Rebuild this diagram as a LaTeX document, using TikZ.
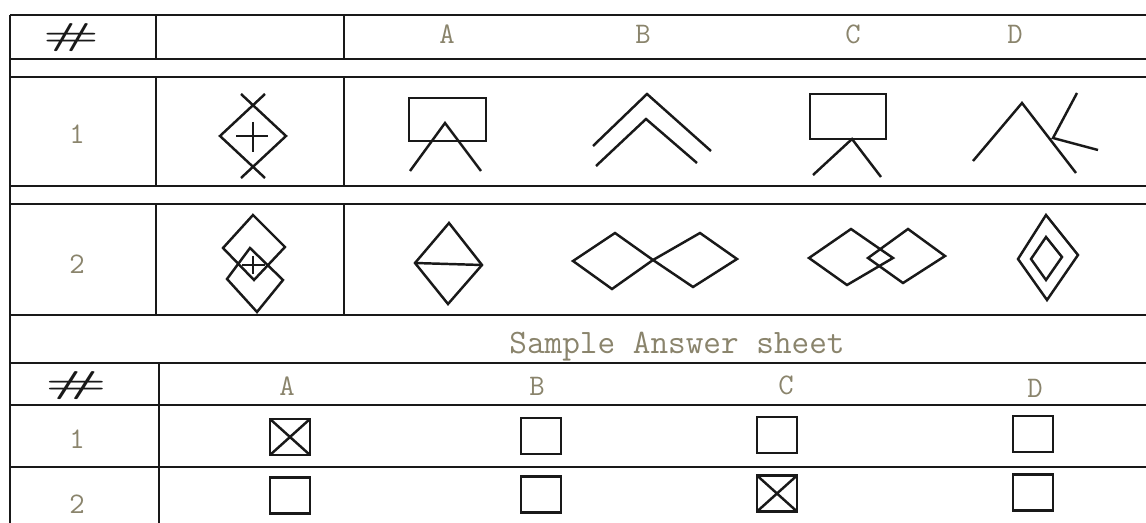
\documentclass[tikz,border=0pt]{standalone}
\usepackage{fontspec}
\usepackage{xcolor}
\usepackage{tikz}
\usetikzlibrary{positioning}
\definecolor{typeink}{RGB}{138,132,108}
\definecolor{penink}{RGB}{25,25,25}
\tikzstyle{rule} = [line width=1.6pt, draw=penink]
\tikzstyle{figline} = [line width=1.4pt, draw=penink, line join=miter]
\tikzstyle{typed} = [font=\ttfamily\fontsize{17}{17}\selectfont, text=typeink, inner sep=0pt, anchor=base]
\tikzstyle{hash} = [font=\fontsize{18}{18}\selectfont\bfseries, text=penink, inner sep=0pt]
\tikzstyle{ansbox} = [rectangle, draw=penink, line width=1.5pt, minimum width=0.8cm, minimum height=0.72cm, inner sep=0pt, outer sep=0pt]

\begin{document}
\begin{tikzpicture}[x=0.02cm, y=-0.02cm]
    \useasboundingbox (0,0) rectangle (1146,523);

    % Rejilla
    \draw [rule] (10,15) -- (1146,15);
    \draw [rule] (10,59) -- (1146,59);
    \draw [rule] (10,77) -- (1146,77);
    \draw [rule] (10,186) -- (1146,186);
    \draw [rule] (10,204) -- (1146,204);
    \draw [rule] (10,315) -- (1146,315);
    \draw [rule] (10,363) -- (1146,363);
    \draw [rule] (10,405) -- (1146,405);
    \draw [rule] (10,467) -- (1146,467);
    \draw [rule] (10,15) -- (10,523);
    \draw [rule] (156,15) -- (156,59) (156,77) -- (156,186) (156,204) -- (156,315);
    \draw [rule] (344,15) -- (344,59) (344,77) -- (344,186) (344,204) -- (344,315);
    \draw [rule] (159,363) -- (159,523);

    % Cabecera
    \node (hnum) [hash] at (71,38) {\scalebox{1.9}[1]{\#}};
    \node (hA) [typed] at (447,44) {A};
    \node (hB) [typed] at (643,44) {B};
    \node (hC) [typed] at (853,44) {C};
    \node (hD) [typed] at (1015,44) {D};
    \node (q1) [typed] at (77,144) {1};
    \node (q2) [typed] at (77,274) {2};

    % Pregunta 1
    \draw [figline] (265,94) -- (220,136) -- (265,178);
    \draw [figline] (241,94) -- (286,136) -- (241,178);
    \draw [figline] (236,136) -- (268,136) (253,122) -- (253,152);
    \draw [figline] (409,98) rectangle (486,141);
    \draw [figline] (410,171) -- (445,123) -- (481,171);
    \draw [figline] (593,146) -- (647,94) -- (711,151);
    \draw [figline] (596,166) -- (646,119) -- (697,163);
    \draw [figline] (810,94) rectangle (886,139);
    \draw [figline] (813,175) -- (852,139) -- (881,177);
    \draw [figline] (973,161) -- (1022,103) -- (1076,173);
    \draw [figline] (1077,93) -- (1053,138) -- (1098,150);

    % Pregunta 2
    \draw [figline] (253,215) -- (285,247) -- (254,280) -- (223,248) -- cycle;
    \draw [figline] (250,248) -- (283,280) -- (257,312) -- (227,279) -- cycle;
    \draw [figline] (242,265) -- (265,265) (253,256) -- (253,274);
    \draw [figline] (449,223) -- (482,265) -- (448,304) -- (415,263) -- cycle;
    \draw [figline] (415,263) -- (482,265);
    \draw [figline] (573,261) -- (615,233) -- (653,260) -- (612,289) -- cycle;
    \draw [figline] (653,260) -- (700,233) -- (737,259) -- (693,287) -- cycle;
    \draw [figline] (809,258) -- (851,229) -- (893,258) -- (847,285) -- cycle;
    \draw [figline] (868,258) -- (908,229) -- (945,256) -- (903,283) -- cycle;
    \draw [figline] (1018,259) -- (1046,215) -- (1078,255) -- (1047,300) -- cycle;
    \draw [figline] (1031,259) -- (1046,237) -- (1062,257) -- (1046,280) -- cycle;

    % Hoja de respuestas
    \node (title) [typed, font=\ttfamily\fontsize{19.5}{19.5}\selectfont] at (677,354) {Sample Answer sheet};
    \node (snum) [hash] at (76,386) {\scalebox{2.1}[1]{\#}};
    \node (sA) [typed] at (287,396) {A};
    \node (sB) [typed] at (537,396) {B};
    \node (sC) [typed] at (786,395) {C};
    \node (sD) [typed] at (1035,398) {D};
    \node (s1) [typed] at (77,448) {1};
    \node (s2) [typed] at (77,513) {2};

    \node (a1) [ansbox] at (290,437) {};
    \node (b1) [ansbox] at (541,436) {};
    \node (c1) [ansbox] at (777,435) {};
    \node (d1) [ansbox] at (1033,434) {};
    \node (a2) [ansbox, below=0.45cm of a1] {};
    \node (b2) [ansbox, below=0.45cm of b1] {};
    \node (c2) [ansbox, below=0.45cm of c1] {};
    \node (d2) [ansbox, below=0.45cm of d1] {};

    % Marcas
    \draw [figline] (a1.north west) -- (a1.south east) (a1.north east) -- (a1.south west);
    \draw [figline] (c2.north west) -- (c2.south east) (c2.north east) -- (c2.south west);
\end{tikzpicture}
\end{document}
